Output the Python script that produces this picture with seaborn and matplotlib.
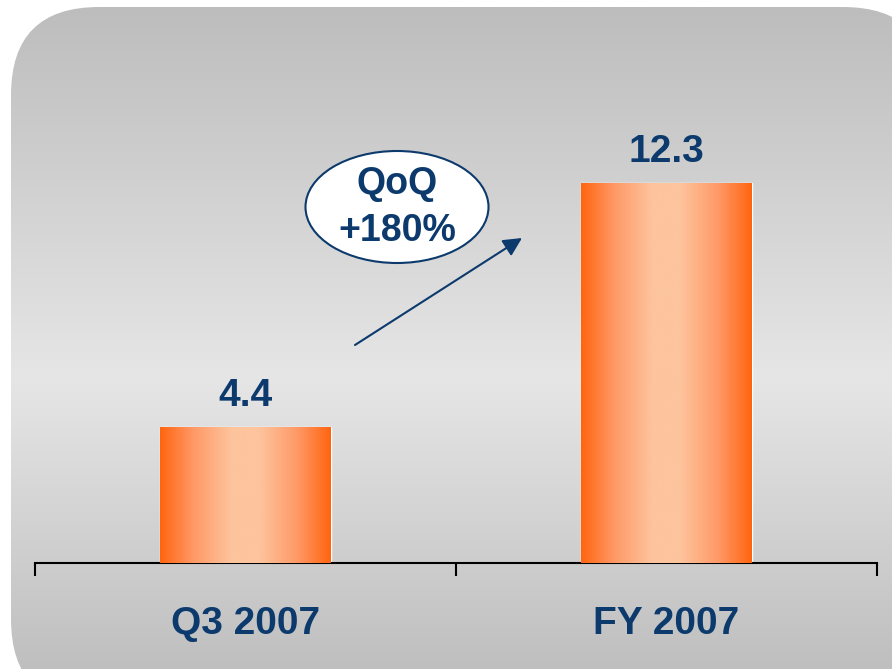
import numpy as np
import pandas as pd
import matplotlib
matplotlib.use("Agg")
import matplotlib.pyplot as plt
from matplotlib.patches import FancyBboxPatch, Ellipse
from matplotlib.colors import LinearSegmentedColormap
import seaborn as sns

sns.set_style("white")
plt.rcParams['font.family'] = ['Liberation Sans', 'DejaVu Sans']

# data
periods = ['Q3 2007', 'FY 2007']
values = [4.4, 12.3]
growth_lines = ['QoQ', '+180%']

navy = '#0c3a6d'

df = pd.DataFrame({'period': periods, 'value': values})

fig = plt.figure(figsize=(8.92, 6.69), dpi=100)
fig.patch.set_facecolor('white')

# background: rounded box with vertical grey gradient (pixel coords)
bg = fig.add_axes([0, 0, 1, 1])
bg.set_xlim(0, 892)
bg.set_ylim(669, 0)
bg.axis('off')
grey = LinearSegmentedColormap.from_list(
    'bg', [(0, '#bdbdbd'), (0.56, '#e6e6e6'), (1, '#bfbfbf')])
grad = np.linspace(0, 1, 256).reshape(-1, 1)
img = bg.imshow(grad, cmap=grey, extent=[0, 892, 669, 7], aspect='auto', zorder=0)
box = FancyBboxPatch((11, 7), 920, 700, boxstyle='round,pad=0,rounding_size=88',
                     facecolor='none', edgecolor='none', transform=bg.transData)
bg.add_patch(box)
img.set_clip_path(box)

# main chart axes
x0, x1 = 35 / 892, 877 / 892
y0 = 1 - 563 / 669
ax = fig.add_axes([x0, y0, x1 - x0, 1 - y0 - 0.05])
ax.patch.set_alpha(0)

sns.barplot(data=df, x='period', y='value', width=0.406, color='#ff6a13',
            ax=ax, zorder=2)
ax.set_xlim(-0.5, 1.5)
ax.set_ylim(0, (669 * (1 - y0 - 0.05)) / 30.9)

# horizontal orange gradient inside each bar
orange = LinearSegmentedColormap.from_list(
    'bar', [(0, '#ff6510'), (0.2, '#ff9a68'), (0.42, '#fdc49d'),
            (0.58, '#fdc49d'), (0.8, '#ff9a68'), (1, '#ff6510')])
hgrad = np.linspace(0, 1, 256).reshape(1, -1)
for p in ax.patches:
    bx, by = p.get_x(), p.get_y()
    w, h = p.get_width(), p.get_height()
    im = ax.imshow(hgrad, cmap=orange, extent=[bx, bx + w, by, by + h],
                   aspect='auto', zorder=3)
    im.set_clip_path(p)
    ax.annotate(f'{h:.1f}', (bx + w / 2, by + h), xytext=(0, 15),
                textcoords='offset points', ha='center', va='baseline',
                fontsize=28, fontweight='bold', color=navy)

# axis styling
for s in ['top', 'right', 'left']:
    ax.spines[s].set_visible(False)
ax.spines['bottom'].set_color('black')
ax.spines['bottom'].set_linewidth(1.5)
ax.set_yticks([])
ax.set_xlabel('')
ax.set_ylabel('')
ax.set_xticks([0, 1])
ax.set_xticklabels(periods, fontsize=28, fontweight='bold', color=navy)
ax.tick_params(axis='x', which='major', length=0, pad=31)
ax.set_xticks([-0.5, 0.5, 1.5], minor=True)
ax.tick_params(axis='x', which='minor', bottom=True, length=9, width=1.5,
               color='black', direction='out')

# growth bubble and arrow
ell = Ellipse((397, 207), 183, 112, facecolor='white', edgecolor=navy,
              linewidth=1.5, transform=bg.transData, zorder=5, clip_on=False)
ax.add_patch(ell)
for ty, line in zip([184, 231], growth_lines):
    ax.text(397, ty, line, transform=bg.transData, ha='center',
            va='center', fontsize=27, fontweight='bold', color=navy, zorder=6)
ax.annotate('', xy=(522, 238), xytext=(355, 345), xycoords=bg.transData,
            textcoords=bg.transData,
            arrowprops=dict(arrowstyle='-|>', color=navy, lw=1.5,
                            mutation_scale=28, shrinkA=0, shrinkB=0),
            zorder=6, annotation_clip=False)

fig.savefig('out.png', dpi=100, facecolor=fig.get_facecolor())
